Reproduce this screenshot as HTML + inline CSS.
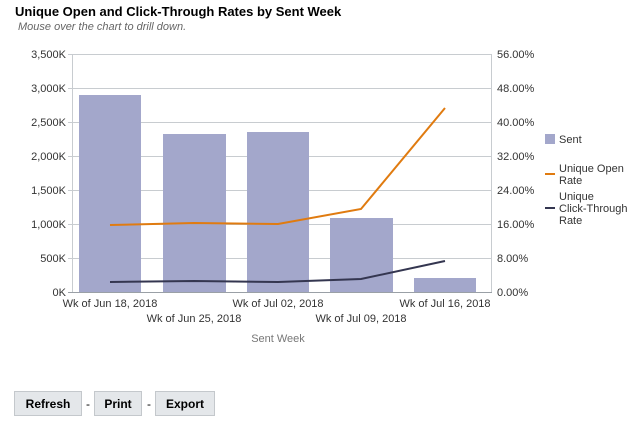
<!DOCTYPE html>
<html><head><style>
body{margin:0;width:644px;height:430px;background:#fff;font-family:"Liberation Sans",sans-serif;position:relative;overflow:hidden}
.t{position:absolute;left:15px;top:4px;font-weight:bold;font-size:13px;color:#000}
.s{position:absolute;left:18px;top:21px;font-style:italic;font-size:11px;color:#666}
.b{position:absolute;top:391px;height:25px;background:#e4e7ea;border:1px solid #c4c8cc;font-weight:bold;font-size:12px;color:#000;line-height:25px;text-align:center;box-sizing:border-box}
.d{position:absolute;top:397px;font-size:12px;color:#000}
</style></head><body>
<div class="t">Unique Open and Click-Through Rates by Sent Week</div>
<div class="s">Mouse over the chart to drill down.</div>
<svg width="644" height="430" style="position:absolute;left:0;top:0" font-family="Liberation Sans, sans-serif" font-size="11" fill="#333">
<g stroke="#c8ccd0" stroke-width="1">
<line x1="68" y1="54.5" x2="492" y2="54.5"/><line x1="68" y1="88.5" x2="492" y2="88.5"/>
<line x1="68" y1="122.5" x2="492" y2="122.5"/><line x1="68" y1="156.5" x2="492" y2="156.5"/>
<line x1="68" y1="190.5" x2="492" y2="190.5"/><line x1="68" y1="224.5" x2="492" y2="224.5"/>
<line x1="68" y1="258.5" x2="492" y2="258.5"/>
<line x1="72.5" y1="54" x2="72.5" y2="292"/><line x1="491.5" y1="54" x2="491.5" y2="292"/>
</g>
<line x1="68" y1="292.5" x2="492" y2="292.5" stroke="#9aa0a6"/>
<g fill="#a3a7cb">
<rect x="79" y="95" width="62" height="197"/>
<rect x="163" y="134" width="63" height="158"/>
<rect x="247" y="132" width="62" height="160"/>
<rect x="330" y="218" width="63" height="74"/>
<rect x="414" y="278" width="62" height="14"/>
</g>
<polyline points="110,225 194,223 278,224 361,209 445,108" fill="none" stroke="#e07b10" stroke-width="2"/>
<polyline points="110,282 194,281 278,282 361,279 445,261" fill="none" stroke="#343650" stroke-width="2"/>
<g text-anchor="end">
<text x="66" y="58">3,500K</text><text x="66" y="92">3,000K</text><text x="66" y="126">2,500K</text>
<text x="66" y="160">2,000K</text><text x="66" y="194">1,500K</text><text x="66" y="228">1,000K</text>
<text x="66" y="262">500K</text><text x="66" y="296">0K</text>
</g>
<g>
<text x="497" y="58">56.00%</text><text x="497" y="92">48.00%</text><text x="497" y="126">40.00%</text>
<text x="497" y="160">32.00%</text><text x="497" y="194">24.00%</text><text x="497" y="228">16.00%</text>
<text x="497" y="262">8.00%</text><text x="497" y="296">0.00%</text>
</g>
<g text-anchor="middle">
<text x="110" y="307">Wk of Jun 18, 2018</text>
<text x="194" y="322">Wk of Jun 25, 2018</text>
<text x="278" y="307">Wk of Jul 02, 2018</text>
<text x="361" y="322">Wk of Jul 09, 2018</text>
<text x="445" y="307">Wk of Jul 16, 2018</text>
<text x="278" y="342" fill="#777">Sent Week</text>
</g>
<rect x="545" y="134" width="10" height="10" fill="#a3a7cb"/>
<text x="559" y="143">Sent</text>
<line x1="545" y1="174" x2="555" y2="174" stroke="#e07b10" stroke-width="2"/>
<text x="559" y="172">Unique Open</text><text x="559" y="184">Rate</text>
<line x1="545" y1="208" x2="555" y2="208" stroke="#343650" stroke-width="2"/>
<text x="559" y="200">Unique</text><text x="559" y="212">Click-Through</text><text x="559" y="224">Rate</text>
</svg>
<div class="b" style="left:14px;width:68px">Refresh</div>
<div class="d" style="left:86px">-</div>
<div class="b" style="left:94px;width:48px">Print</div>
<div class="d" style="left:147px">-</div>
<div class="b" style="left:155px;width:60px">Export</div>
</body></html>
